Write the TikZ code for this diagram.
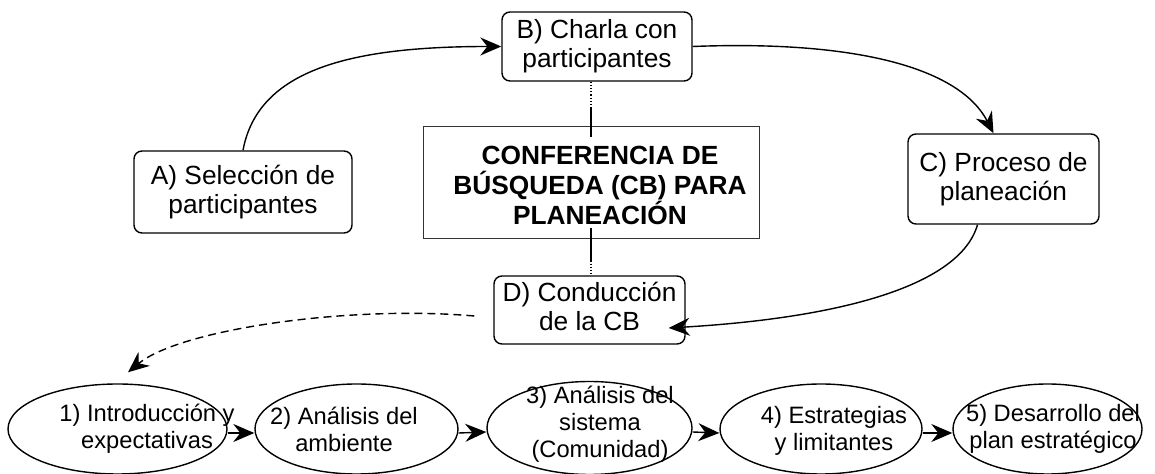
\documentclass[tikz,border=0pt]{standalone}
\usepackage{fontspec}
\setmainfont{Liberation Sans}
\usepackage{tikz}
\usetikzlibrary{arrows.meta,shapes,positioning}
\tikzset{
	stepbox/.style={draw, rounded corners=4pt, line width=0.7pt, align=center, inner sep=0pt, font=\fontsize{13.15}{14.5}\selectfont},
	phase/.style={draw, ellipse, line width=0.7pt, inner sep=0pt, minimum height=45pt},
	phasetext/.style={align=center, inner sep=0pt, font=\fontsize{11.85}{13.5}\selectfont},
	flow/.style={-{Stealth[length=10.5pt,width=9pt,inset=3.5pt]}, line width=0.7pt},
	link/.style={densely dotted, line width=0.6pt}
}

\begin{document}
\begin{tikzpicture}[x=0.5pt,y=-0.5pt]
		\useasboundingbox (0,0) rectangle (1155,474);
		\node[stepbox, minimum width=109pt, minimum height=41pt] (A) at (243,192) {A) Selección de\\participantes};
		\node[stepbox, minimum width=95pt, minimum height=34.5pt] (B) at (597,46.5) {B) Charla con\\participantes};
		\node[stepbox, minimum width=95.5pt, minimum height=45pt] (C) at (1003.5,179) {C) Proceso de\\planeación};
		\node[stepbox, minimum width=95.5pt, minimum height=34pt, text depth=4pt] (D) at (589.5,310) {D) Conducción\\de la CB};
		\node[draw=black!80, line width=0.5pt, minimum width=168pt, minimum height=56pt, inner sep=0pt] (mid) at (591,183) {};
		\node[align=center, inner sep=0pt, font=\bfseries\fontsize{13.15}{15}\selectfont] (title) at (600,185) {CONFERENCIA DE\\BÚSQUEDA (CB) PARA\\PLANEACIÓN};
		\node[phase, minimum width=109.5pt] (e1) at (117.5,429) {};
		\node[phase, minimum width=101.5pt] (e2) at (356.5,429) {};
		\node[phase, minimum width=102.5pt, minimum height=46.5pt] (e3) at (589.5,428) {};
		\node[phase, minimum width=101pt] (e4) at (821,429) {};
		\node[phase, minimum width=94.5pt] (e5) at (1047.5,429) {};
		\node[phasetext] (t1) at (147,429) {1) Introducción y\\expectativas};
		\node[phasetext] (t2) at (344,429) {2) Análisis del\\ambiente};
		\node[phasetext] (t3) at (600,424) {3) Análisis del\\sistema\\(Comunidad)};
		\node[phasetext] (t4) at (834,431) {4) Estrategias\\y limitantes};
		\node[phasetext] (t5) at (1053,429) {5) Desarrollo del\\plan estratégico};
		\foreach \a/\b in {e1/e2,e2/e3,e3/e4,e4/e5}
			\draw[flow] ([yshift=-2pt]\a.east) -- ([yshift=-2pt]\b.west);
		\draw[flow] (A.north) .. controls +(15,-81) and +(-150,0) .. (B.west);
		\draw[flow] (B.east) .. controls +(168,-6.5) and +(-33,-64) .. ([xshift=-5pt]C.north);
		\draw[flow] ([xshift=-13pt]C.south) .. controls +(-17.5,61) and +(172,-10) .. ([shift={(-17,18)}]D.east);
		\draw[flow, dash pattern=on 4pt off 2.5pt] ([shift={(-19,6)}]D.west) .. controls +(-125,-11) and +(52,-43) .. ([shift={(10.5,-11)}]e1.north);
		\draw[link] (mid.north |- B.south) -- ([yshift=9.5pt]mid.north);
		\draw[line width=0.7pt] ([yshift=9.5pt]mid.north) -- ([yshift=-5.5pt]mid.north);
		\draw[line width=0.7pt] ([yshift=5.5pt]mid.south) -- ([yshift=-10.5pt]mid.south);
		\draw[link] ([yshift=-10.5pt]mid.south) -- (mid.south |- D.north);
	\end{tikzpicture}
\end{document}
